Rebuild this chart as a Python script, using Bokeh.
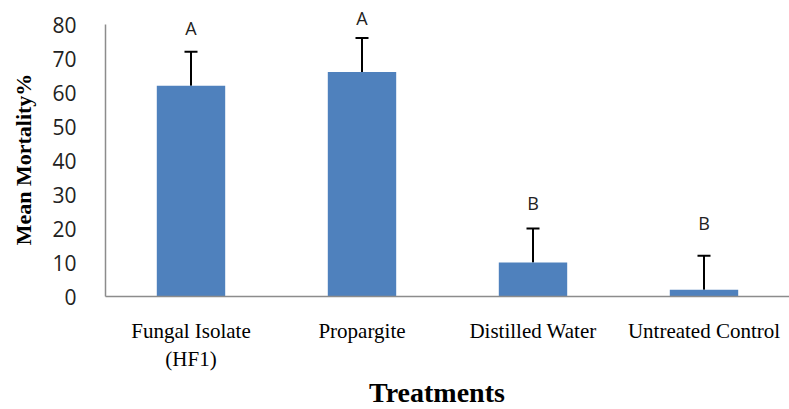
from bokeh.plotting import figure
from bokeh.models import Range1d, ColumnDataSource, Whisker, TeeHead, FixedTicker, Div
from bokeh.layouts import column
from bokeh.core.properties import value
from bokeh.embed import file_html
from bokeh.resources import INLINE

categories = ["Fungal Isolate\n(HF1)", "Propargite", "Distilled Water", "Untreated Control"]
means = [62, 66, 10, 2]
errors = [10, 10, 10, 10]
letters = ["A", "A", "B", "B"]
letter_y = [79, 82, 27.5, 21.5]
y_ticks = [0, 10, 20, 30, 40, 50, 60, 70, 80]
x_title = "Treatments"
y_title = "Mean Mortality%"

xs = list(range(1, len(categories) + 1))
src = ColumnDataSource(dict(
    x=xs, top=means,
    upper=[m + e for m, e in zip(means, errors)],
    ly=letter_y, lab=letters,
))

W, H, TH = 789, 374, 35
p = figure(width=W, height=H, output_backend="svg", toolbar_location=None,
           x_range=Range1d(0.5, 4.5), y_range=Range1d(0, 87.06),
           min_border_left=105, min_border_right=0, min_border_top=0, min_border_bottom=78)
p.outline_line_color = None
p.grid.visible = False
p.background_fill_color = "white"

p.vbar(x="x", top="top", width=0.4, source=src, fill_color="#4F81BD", line_color=None)

w = Whisker(base="x", lower="top", upper="upper", source=src, dimension="height",
            line_color="black", line_width=2, lower_head=None,
            upper_head=TeeHead(size=13, line_color="black", line_width=2))
p.add_layout(w)

p.text(x="x", y="ly", text="lab", source=src, text_align="center", text_baseline="middle",
       text_font=value("Open Sans"), text_font_size="18px", text_color="#222222")

ya = p.yaxis[0]
ya.ticker = FixedTicker(ticks=y_ticks)
ya.bounds = (0, 80)
ya.major_tick_line_color = None
ya.minor_tick_line_color = None
ya.axis_line_color = "#8c8c8c"
ya.axis_line_width = 1.5
ya.major_label_text_font = "Open Sans"
ya.major_label_text_font_size = "21px"
ya.major_label_text_color = "#222222"
ya.major_label_standoff = 23
ya.axis_label = y_title + "\u00a0\u00a0\u00a0\u00a0"
ya.axis_label_text_font = "Liberation Serif"
ya.axis_label_text_font_style = "bold"
ya.axis_label_text_font_size = "22px"
ya.axis_label_text_color = "black"
ya.axis_label_standoff = 13

xa = p.xaxis[0]
xa.ticker = FixedTicker(ticks=xs)
xa.major_label_overrides = {x: c for x, c in zip(xs, categories)}
xa.major_tick_line_color = None
xa.minor_tick_line_color = None
xa.axis_line_color = "#8c8c8c"
xa.axis_line_width = 1.5
xa.major_label_text_font = "Liberation Serif"
xa.major_label_text_font_size = "21px"
xa.major_label_text_color = "black"
xa.major_label_standoff = 16

title = Div(text=x_title, width=W, height=TH,
            styles={"width": f"{W}px", "box-sizing": "border-box", "padding-left": "85px",
                    "padding-top": "2px", "text-align": "center",
                    "font-family": "'Liberation Serif', serif",
                    "font-weight": "bold", "font-size": "28px", "line-height": "33px",
                    "color": "black", "margin": "0"})

layout = column(p, title, spacing=0)
open("out.html", "w").write(file_html(layout, INLINE))
